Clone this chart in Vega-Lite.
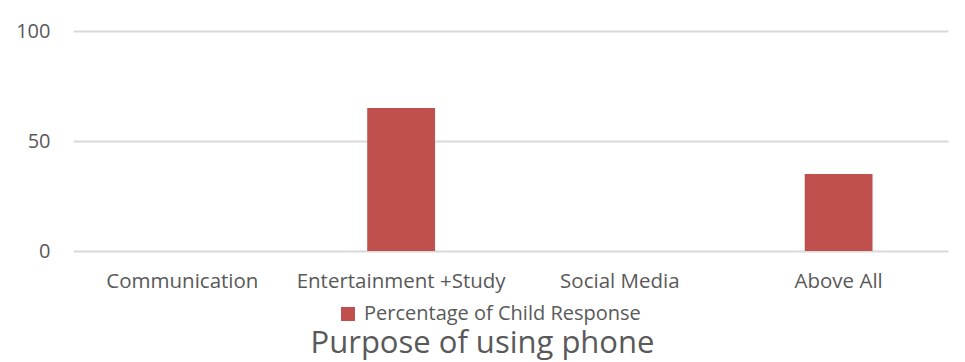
{
  "$schema": "https://vega.github.io/schema/vega-lite/v6.json",
  "width": 875,
  "height": 220,
  "autosize": "none",
  "padding": {"left": 73, "top": 31, "right": 17, "bottom": 111},
  "background": "white",
  "data": {
    "values": [
      {"purpose": "Communication", "value": 0, "series": "Percentage of Child Response"},
      {"purpose": "Entertainment +Study", "value": 65, "series": "Percentage of Child Response"},
      {"purpose": "Social Media", "value": 0, "series": "Percentage of Child Response"},
      {"purpose": "Above All", "value": 35, "series": "Percentage of Child Response"}
    ]
  },
  "title": {
    "text": "Purpose of using phone",
    "orient": "bottom",
    "anchor": "middle",
    "fontSize": 31,
    "font": "Open Sans",
    "fontWeight": "normal",
    "color": "#595959",
    "offset": 5,
    "dx": -28
  },
  "mark": {"type": "bar", "color": "#C0504D"},
  "encoding": {
    "x": {
      "field": "purpose",
      "type": "nominal",
      "sort": null,
      "scale": {"paddingInner": 0.69, "paddingOuter": 0.345},
      "axis": {
        "title": null,
        "labelAngle": 0,
        "domain": false,
        "ticks": false,
        "labelPadding": 20,
        "labelFontSize": 20.5,
        "labelLimit": 0,
        "labelFont": "Open Sans",
        "labelColor": "#595959"
      }
    },
    "y": {
      "field": "value",
      "type": "quantitative",
      "scale": {"domain": [0, 100]},
      "axis": {
        "title": null,
        "values": [0, 50, 100],
        "domain": false,
        "ticks": false,
        "labelPadding": 23,
        "labelFontSize": 20,
        "labelFont": "Open Sans",
        "labelColor": "#595959",
        "gridColor": "#D9D9D9",
        "gridWidth": 2
      }
    },
    "color": {
      "field": "series",
      "type": "nominal",
      "scale": {"range": ["#C0504D"]},
      "legend": {
        "title": null,
        "orient": "none",
        "legendX": 265,
        "legendY": 273,
        "symbolType": "square",
        "symbolSize": 196,
        "symbolStrokeWidth": 0,
        "labelFontSize": 20,
        "labelLimit": 0,
        "labelFont": "Open Sans",
        "labelColor": "#595959",
        "labelOffset": 6
      }
    }
  },
  "config": {"view": {"stroke": null}}
}
